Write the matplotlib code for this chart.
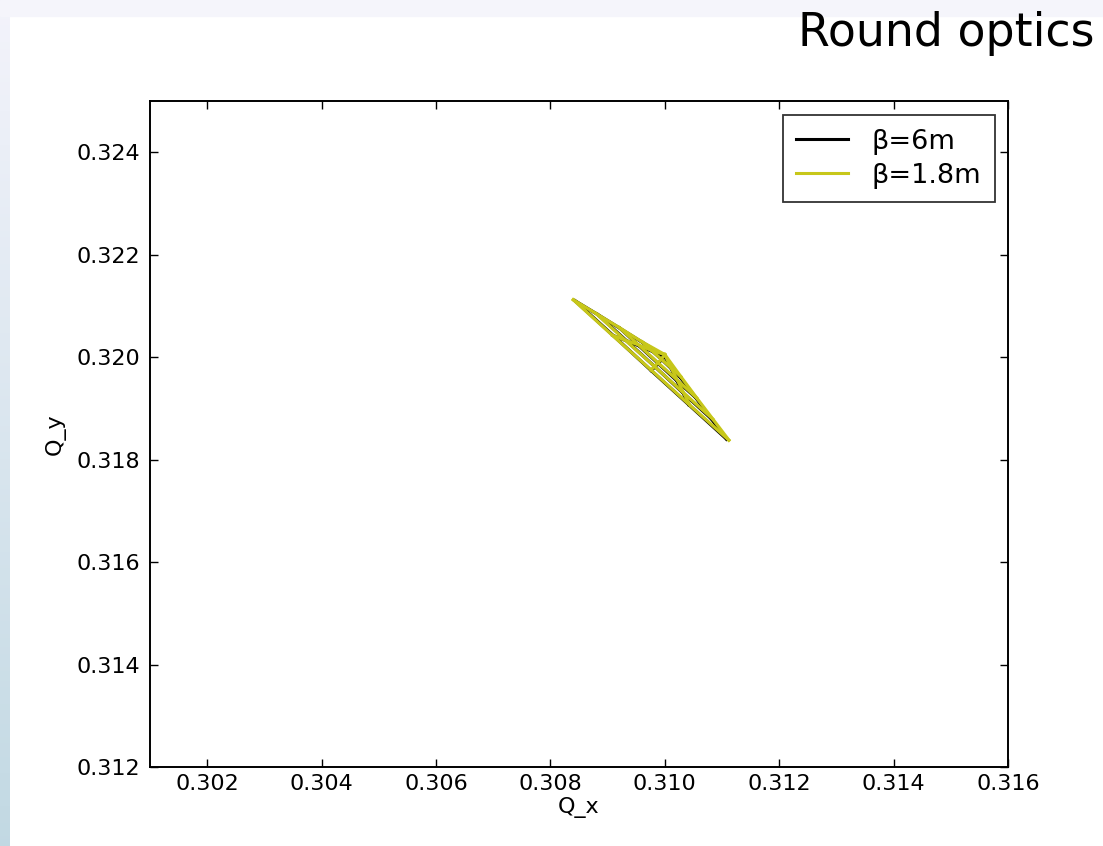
import numpy as np
import matplotlib
matplotlib.use("Agg")
import matplotlib.pyplot as plt
from matplotlib.patches import Rectangle

# tune footprint nodes: rows = amplitude levels (row 0 = zero amplitude),
# columns = angle from pure horizontal to pure vertical
qx_6m = [
    [0.31000, 0.31000, 0.31000, 0.31000, 0.31000],
    [0.30962, 0.30979, 0.30995, 0.31011, 0.31026],
    [0.30922, 0.30955, 0.30988, 0.31021, 0.31054],
    [0.30883, 0.30933, 0.30983, 0.31032, 0.31081],
    [0.30843, 0.30910, 0.30976, 0.31042, 0.31108],
]
qy_6m = [
    [0.32002, 0.32002, 0.32002, 0.32002, 0.32002],
    [0.32028, 0.32011, 0.31995, 0.31978, 0.31962],
    [0.32056, 0.32022, 0.31988, 0.31954, 0.31921],
    [0.32083, 0.32032, 0.31981, 0.31930, 0.31880],
    [0.32110, 0.32042, 0.31974, 0.31907, 0.31840],
]
qx_18m = [
    [0.31000, 0.31000, 0.31000, 0.31000, 0.31000],
    [0.30960, 0.30977, 0.30994, 0.31011, 0.31028],
    [0.30920, 0.30954, 0.30988, 0.31022, 0.31056],
    [0.30880, 0.30931, 0.30982, 0.31033, 0.31084],
    [0.30840, 0.30908, 0.30976, 0.31044, 0.31112],
]
qy_18m = [
    [0.32005, 0.32005, 0.32005, 0.32005, 0.32005],
    [0.32030, 0.32013, 0.31996, 0.31979, 0.31962],
    [0.32058, 0.32024, 0.31989, 0.31955, 0.31920],
    [0.32085, 0.32033, 0.31982, 0.31930, 0.31879],
    [0.32112, 0.32043, 0.31975, 0.31906, 0.31838],
]
labels = [u"\u03b2=6m", u"\u03b2=1.8m"]
xticks = [0.302, 0.304, 0.306, 0.308, 0.310, 0.312, 0.314, 0.316]
yticks = [0.312, 0.314, 0.316, 0.318, 0.320, 0.322, 0.324]


def draw_footprint(ax, qx, qy, color, label):
    qx = np.array(qx)
    qy = np.array(qy)
    for i in range(1, qx.shape[0]):
        ax.plot(qx[i], qy[i], color=color, lw=2.3)
    for j in range(qx.shape[1]):
        ax.plot(qx[:, j], qy[:, j], color=color, lw=2.3)
    ax.plot([], [], color=color, lw=2.2, label=label)


def main():
    fig = plt.figure(figsize=(11.03, 8.46), dpi=100, facecolor="white")

    # slide decoration: top band and left gradient strip
    fig.patches.append(Rectangle((0, 1 - 16 / 846), 1, 16 / 846,
                                 transform=fig.transFigure, color="#f5f5fb", zorder=0))
    strip = fig.add_axes([0, 0, 10 / 1103, 1])
    grad = np.linspace(0, 1, 256)[:, None, None]
    top = np.array([0.955, 0.955, 0.985])
    bot = np.array([0.76, 0.85, 0.89])
    strip.imshow(top + grad * (bot - top), aspect="auto")
    strip.axis("off")

    fig.text(1095 / 1103, 1 - 33 / 846, "Round optics", ha="right", va="center",
             fontsize=33, family="DejaVu Sans", color="black")

    ax = fig.add_axes([150 / 1103, 79 / 846, 858 / 1103, 666 / 846])
    draw_footprint(ax, qx_6m, qy_6m, "k", labels[0])
    draw_footprint(ax, qx_18m, qy_18m, (0.78, 0.78, 0.1), labels[1])

    ax.set_xlim(0.301, 0.316)
    ax.set_ylim(0.312, 0.325)
    ax.set_xticks(xticks)
    ax.set_yticks(yticks)
    ax.set_xticklabels(["%.3f" % v for v in xticks])
    ax.set_yticklabels(["%.3f" % v for v in yticks])
    ax.tick_params(direction="in", length=5.5, width=1, top=True, right=True,
                   labelsize=16)
    ax.tick_params(axis="x", pad=5)
    ax.tick_params(axis="y", pad=7)
    for s in ax.spines.values():
        s.set_linewidth(1.4)
    ax.set_xlabel("Q_x", fontsize=16, labelpad=2)
    ax.set_ylabel("Q_y", fontsize=16, labelpad=8)

    leg = ax.legend(loc="upper right", bbox_to_anchor=(0.985, 0.979),
                    borderaxespad=0, fancybox=False, frameon=True,
                    fontsize=19.5, handlelength=1.9, handletextpad=0.9,
                    borderpad=0.5, labelspacing=0.3)
    leg.get_frame().set_edgecolor("black")
    leg.get_frame().set_linewidth(1.3)

    fig.savefig("out.png", dpi=100, facecolor="white")


if __name__ == "__main__":
    main()
